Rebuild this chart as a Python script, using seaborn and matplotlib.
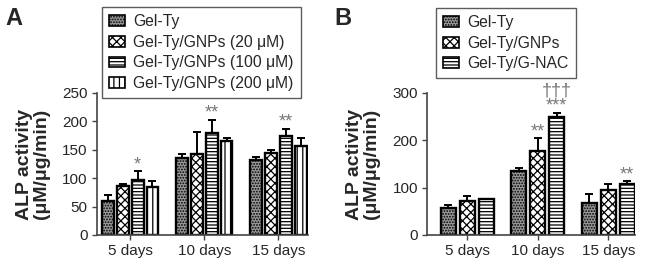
import seaborn as sns
import matplotlib.pyplot as plt
import matplotlib.patches as mpatches
import pandas as pd
import numpy as np

# data
days = ['5 days', '10 days', '15 days']

groups_a = ['Gel-Ty', 'Gel-Ty/GNPs (20 μM)', 'Gel-Ty/GNPs (100 μM)', 'Gel-Ty/GNPs (200 μM)']
mean_a = [[60, 135, 132], [87, 142, 144], [96, 180, 175], [85, 165, 157]]
err_a = [[11, 7, 6], [2, 40, 6], [16, 23, 12], [10, 5, 14]]
marks_a = [['', '', ''], ['', '', ''], ['*', '**', '**'], ['', '', '']]

groups_b = ['Gel-Ty', 'Gel-Ty/GNPs', 'Gel-Ty/G-NAC']
mean_b = [[56, 135, 68], [72, 177, 96], [76, 250, 107]]
err_b = [[7, 6, 19], [11, 28, 12], [1, 8, 6]]
marks_b = [['', '', ''], ['', '**', ''], ['', '†††\n***', '**']]

hatches = ['......', 'xxxx', '-----', '|||']
faces = ['#9a9a9a', 'white', 'white', 'white']

sns.set_style('ticks')
plt.rcParams['font.family'] = ['Liberation Sans', 'DejaVu Sans']
plt.rcParams['hatch.linewidth'] = 0.9
plt.rcParams['hatch.color'] = 'black'


def panel(ax, groups, means, errs, marks, ymax, step, width, xlim):
    rows = []
    for g, m in zip(groups, means):
        for d, v in zip(days, m):
            rows.append({'day': d, 'group': g, 'value': v})
    df = pd.DataFrame(rows)
    sns.barplot(data=df, x='day', y='value', hue='group', order=days,
                hue_order=groups, palette=['white'] * len(groups),
                edgecolor='black', linewidth=1.7, width=width, gap=0.2,
                errorbar=None, legend=False, ax=ax)
    handles = []
    bar_sets = list(ax.containers)
    for i, cont in enumerate(bar_sets):
        for j, bar in enumerate(cont):
            bar.set_facecolor(faces[i])
            bar.set_hatch(hatches[i])
            x = bar.get_x() + bar.get_width() / 2
            h = bar.get_height()
            ax.errorbar(x, h, yerr=[[0], [errs[i][j]]], color='black',
                        lw=1.4, capsize=3, capthick=1.4, zorder=1)
            if marks[i][j]:
                ax.text(x, h + errs[i][j] - ymax * 0.015, marks[i][j],
                        ha='center', va='bottom', fontsize=13, color='#777777',
                        linespacing=0.85)
        handles.append(mpatches.Patch(facecolor=faces[i], hatch=hatches[i],
                                      edgecolor='black', lw=1.2, label=groups[i]))
    ax.set_ylim(0, ymax)
    ax.set_yticks(np.arange(0, ymax + 1, step))
    ax.set_xlim(*xlim)
    ax.set_xlabel('')
    ax.set_ylabel('ALP activity\n(μM/μg/min)', fontsize=14, fontweight='bold',
                  linespacing=1.0, labelpad=9)
    ax.tick_params(labelsize=11, width=1, length=3.5, color='#444444', pad=3)
    for s in ['left', 'bottom']:
        ax.spines[s].set_color('#444444')
        ax.spines[s].set_linewidth(1.2)
    sns.despine(ax=ax)
    return handles


fig = plt.figure(figsize=(6.5, 2.64), dpi=100)
ax1 = fig.add_axes([0.149, 0.110, 0.325, 0.538])
ax2 = fig.add_axes([0.657, 0.110, 0.320, 0.538])

h1 = panel(ax1, groups_a, mean_a, err_a, marks_a, 250, 50, 0.8, (-0.45, 2.4))
h2 = panel(ax2, groups_b, mean_b, err_b, marks_b, 300, 100, 0.8, (-0.57, 2.38))

leg_kw = dict(loc='upper left', fontsize=11.3, frameon=True, fancybox=False,
              edgecolor='#333333', handlelength=1.0, handleheight=0.7,
              handletextpad=0.55, labelspacing=0.36, borderpad=0.45,
              borderaxespad=0)
leg1 = fig.legend(handles=h1, bbox_to_anchor=(0.157, 0.973), **leg_kw)
leg2 = fig.legend(handles=h2, bbox_to_anchor=(0.671, 0.970), **leg_kw)
for leg in (leg1, leg2):
    leg.get_frame().set_linewidth(1.0)

fig.text(0.008, 0.905, 'A', fontsize=17, fontweight='bold')
fig.text(0.515, 0.905, 'B', fontsize=17, fontweight='bold')

fig.savefig('out.png', dpi=100)
